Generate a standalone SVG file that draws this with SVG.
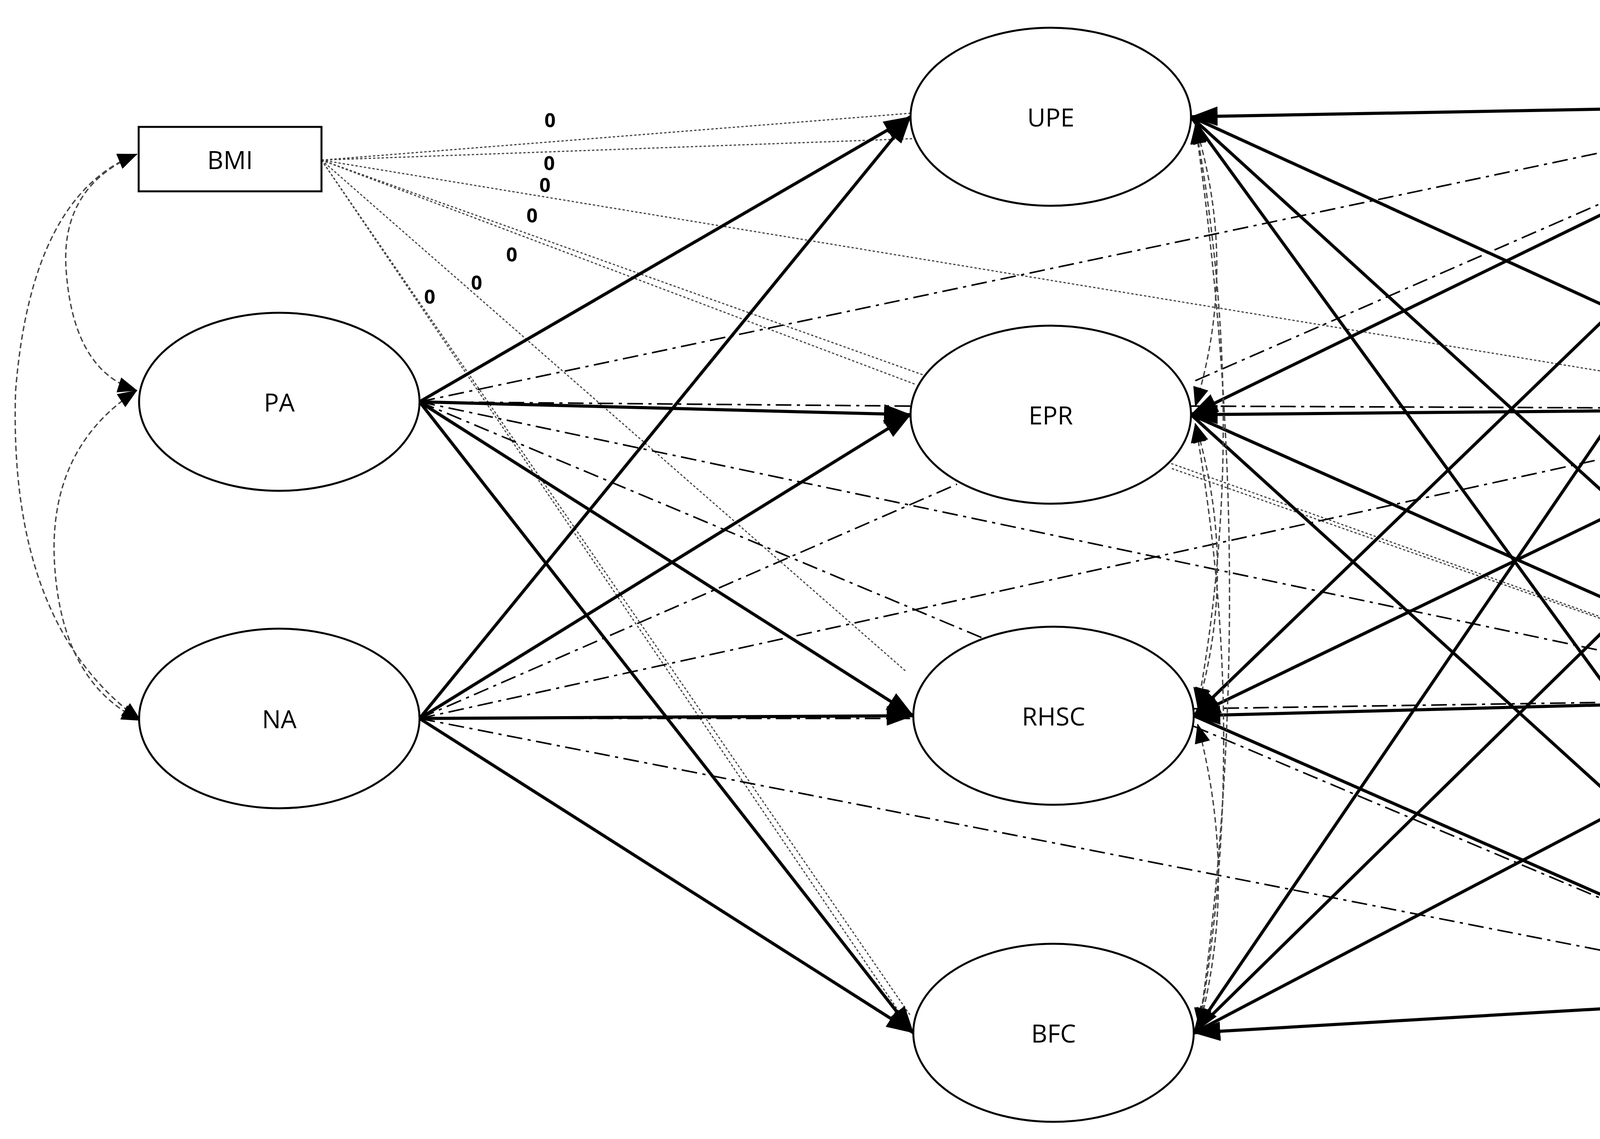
<svg xmlns="http://www.w3.org/2000/svg" width="5866" height="2917" viewBox="0 0 5866 2917">
<defs>
<marker id="ah" markerUnits="userSpaceOnUse" markerWidth="70" markerHeight="50" refX="68" refY="25" orient="auto-start-reverse"><path d="M0,0 L70,25 L0,50 z" fill="#000"/></marker>
<marker id="as" markerUnits="userSpaceOnUse" markerWidth="50" markerHeight="40" refX="48" refY="20" orient="auto-start-reverse"><path d="M0,0 L50,20 L0,40 z" fill="#000"/></marker>
<style>
.nd{fill:#fff;stroke:#000;stroke-width:5}
.tx{font-family:"Open Sans","DejaVu Sans",sans-serif;font-size:64px;text-anchor:middle;dominant-baseline:central}
.lb{font-family:"Open Sans","DejaVu Sans",sans-serif;font-size:50px;font-weight:bold;text-anchor:middle}
.s{stroke:#000;stroke-width:8;fill:none;marker-end:url(#ah)}
.sb{stroke:#000;stroke-width:8;fill:none;marker-end:url(#ah);marker-start:url(#ah)}
.dd{stroke:#000;stroke-width:4;fill:none;stroke-dasharray:40 14 8 14}
.dt{stroke:#444;stroke-width:3;fill:none;stroke-dasharray:6 5}
.cv{stroke:#444;stroke-width:3.5;fill:none;stroke-dasharray:14 8;marker-end:url(#as);marker-start:url(#as)}
</style>
</defs>
<rect width="5866" height="2917" fill="#fff"/>
<g id="connectors">
<path class="dt" d="M823,410 L2331,290"/>
<path class="dt" d="M823,410 L2340,355"/>
<path class="dt" d="M823,410 L2345,985"/>
<path class="dt" d="M823,410 L4685,1047"/>
<path class="dt" d="M823,410 L4686,1790"/>
<path class="dt" d="M823,410 L2320,1720"/>
<path class="dt" d="M823,410 L2330,2600"/>
<path class="dt" d="M823,410 L2338,2645"/>
<path class="dt" d="M3000,1200 L4686,1790"/>
<path class="dd" d="M1074,1029 L4675,269"/>
<path class="dd" d="M1074,1029 L2331,1040"/>
<path class="dd" d="M1074,1029 L2530,1640"/>
<path class="dd" d="M1074,1029 L4686,1790"/>
<path class="dd" d="M1074,1840 L2450,1240"/>
<path class="dd" d="M1074,1840 L4685,1047"/>
<path class="dd" d="M1074,1840 L2338,1840"/>
<path class="dd" d="M1074,1840 L4686,2549"/>
<path class="dd" d="M3060,975 L4675,269"/>
<path class="dd" d="M3049,1040 L4685,1047"/>
<path class="dd" d="M3056,1815 L4686,1790"/>
<path class="dd" d="M3056,1860 L4686,2549"/>
<path class="s" d="M1074,1029 L2331,299"/>
<path class="s" d="M1074,1029 L2331,1062"/>
<path class="s" d="M1074,1029 L2338,1833"/>
<path class="s" d="M1074,1029 L2338,2645"/>
<path class="s" d="M1074,1840 L2331,299"/>
<path class="s" d="M1074,1840 L2331,1062"/>
<path class="s" d="M1074,1840 L2338,1833"/>
<path class="s" d="M1074,1840 L2338,2645"/>
<path class="sb" d="M3049,299 L4675,269"/>
<path class="s" d="M3049,299 L4685,1047"/>
<path class="s" d="M3049,299 L4686,1790"/>
<path class="s" d="M3049,299 L4686,2549"/>
<path class="sb" d="M3049,1062 L4675,269"/>
<path class="sb" d="M3049,1062 L4685,1047"/>
<path class="s" d="M3049,1062 L4686,1790"/>
<path class="s" d="M3049,1062 L4686,2549"/>
<path class="sb" d="M3056,1833 L4675,269"/>
<path class="sb" d="M3056,1833 L4685,1047"/>
<path class="sb" d="M3056,1833 L4686,1790"/>
<path class="s" d="M3056,1833 L4686,2549"/>
<path class="sb" d="M3056,2645 L4675,269"/>
<path class="s" d="M3056,2645 L4685,1047"/>
<path class="s" d="M3056,2645 L4686,1790"/>
<path class="sb" d="M3056,2645 L4686,2549"/>
<path class="cv" d="M350,395 Q150,480 170,700 Q190,950 350,1000"/>
<path class="cv" d="M350,395 Q80,500 40,1000 Q20,1600 360,1845"/>
<path class="cv" d="M350,1000 Q120,1150 140,1450 Q160,1750 360,1845"/>
<path class="cv" d="M3060,320 Q3170,680 3060,1040"/>
<path class="cv" d="M3060,320 Q3200,1080 3066,1810"/>
<path class="cv" d="M3060,320 Q3230,1500 3070,2630"/>
<path class="cv" d="M3060,1085 Q3170,1450 3066,1810"/>
<path class="cv" d="M3060,1085 Q3200,1880 3070,2630"/>
<path class="cv" d="M3066,1855 Q3170,2250 3070,2630"/>
<path class="cv" d="M5389,240 Q5630,560 5400,1040"/>
<path class="cv" d="M5389,240 Q5720,900 5406,1780"/>
<path class="cv" d="M5389,240 Q5910,1400 5406,2560"/>
<path class="cv" d="M5400,1050 Q5640,1400 5406,1780"/>
<path class="cv" d="M5400,1050 Q5760,1800 5406,2560"/>
<path class="cv" d="M5406,1790 Q5640,2150 5406,2560"/>
</g>
<g id="labels">
<text class="lb" x="1408" y="326">0</text>
<text class="lb" x="1406" y="436">0</text>
<text class="lb" x="1395" y="492">0</text>
<text class="lb" x="1362" y="570">0</text>
<text class="lb" x="1310" y="670">0</text>
<text class="lb" x="1220" y="742">0</text>
<text class="lb" x="1100" y="778">0</text>
</g>
<g id="BMI"><rect class="nd" x="355" y="325" width="468" height="165"/><text class="tx" x="589" y="408">BMI</text></g>
<g id="PA"><ellipse class="nd" cx="715" cy="1029" rx="359" ry="228"/><text class="tx" x="715" y="1029">PA</text></g>
<g id="NA"><ellipse class="nd" cx="715" cy="1840" rx="359" ry="230"/><text class="tx" x="715" y="1840">NA</text></g>
<g id="UPE"><ellipse class="nd" cx="2690" cy="299" rx="359" ry="228"/><text class="tx" x="2690" y="299">UPE</text></g>
<g id="EPR"><ellipse class="nd" cx="2690" cy="1062" rx="359" ry="228"/><text class="tx" x="2690" y="1062">EPR</text></g>
<g id="RHSC"><ellipse class="nd" cx="2697" cy="1833" rx="359" ry="228"/><text class="tx" x="2697" y="1833">RHSC</text></g>
<g id="BFC"><ellipse class="nd" cx="2697" cy="2645" rx="359" ry="228"/><text class="tx" x="2697" y="2645">BFC</text></g>
<g id="DIET"><ellipse class="nd" cx="5032" cy="269" rx="357" ry="229"/><text class="tx" x="5032" y="269">DIET</text></g>
<g id="BFP"><ellipse class="nd" cx="5042" cy="1047" rx="357" ry="229"/><text class="tx" x="5042" y="1047">BFP</text></g>
<g id="OC"><ellipse class="nd" cx="5046" cy="1790" rx="360" ry="229"/><text class="tx" x="5046" y="1790">OC</text></g>
<g id="ON"><ellipse class="nd" cx="5046" cy="2549" rx="360" ry="229"/><text class="tx" x="5046" y="2549">ON</text></g>
</svg>
